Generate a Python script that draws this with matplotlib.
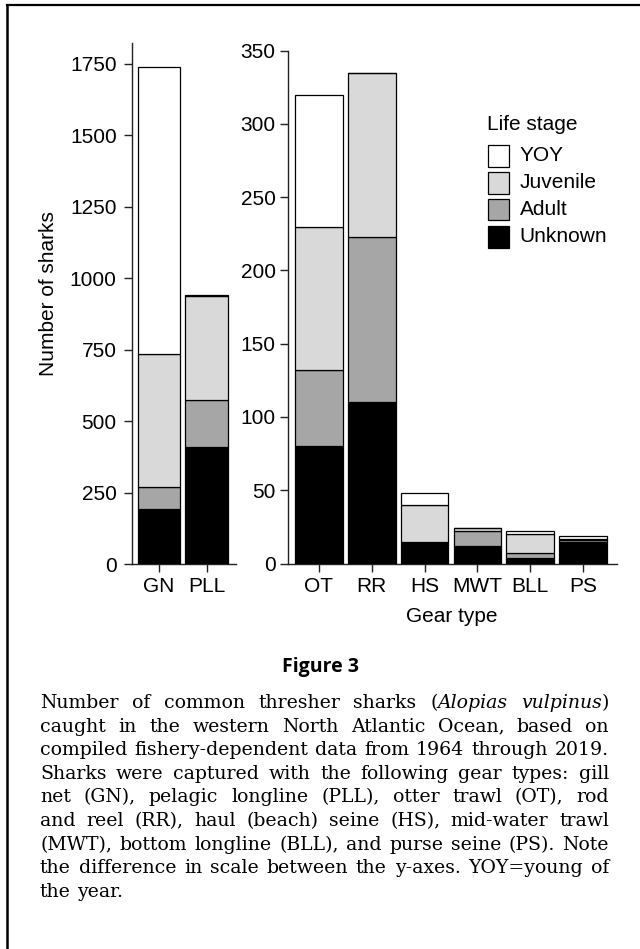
import matplotlib
matplotlib.use("Agg")
import matplotlib.pyplot as plt
from matplotlib.patches import Rectangle
from matplotlib.lines import Line2D
import numpy as np

# ---------------- data ----------------
stages = ["YOY", "Juvenile", "Adult", "Unknown"]
stage_colors = {"YOY": "#ffffff", "Juvenile": "#d9d9d9", "Adult": "#a6a6a6", "Unknown": "#000000"}

gear_left = ["GN", "PLL"]
left_unknown = [192, 410]
left_adult = [76, 164]
left_juvenile = [466, 362]
left_yoy = [1006, 5]

gear_right = ["OT", "RR", "HS", "MWT", "BLL", "PS"]
right_unknown = [80, 110, 15, 12, 4, 15]
right_adult = [52, 113, 0, 10, 3, 1]
right_juvenile = [98, 112, 25, 2, 13, 1]
right_yoy = [90, 0, 8, 0, 2, 2]

left_yticks = [0, 250, 500, 750, 1000, 1250, 1500, 1750]
right_yticks = [0, 50, 100, 150, 200, 250, 300, 350]

caption_lines = [
    [[("Number", "n")], [("of", "n")], [("common", "n")], [("thresher", "n")], [("sharks", "n")],
     [("(", "n"), ("Alopias", "i")], [("vulpinus", "i"), (")", "n")]],
    "caught in the western North Atlantic Ocean, based on",
    "compiled fishery-dependent data from 1964 through 2019.",
    "Sharks were captured with the following gear types: gill",
    "net (GN), pelagic longline (PLL), otter trawl (OT), rod",
    "and reel (RR), haul (beach) seine (HS), mid-water trawl",
    "(MWT), bottom longline (BLL), and purse seine (PS). Note",
    "the difference in scale between the y-axes. YOY=young of",
    "the year.",
]

# ---------------- figure ----------------
W, H = 640, 949
fig = plt.figure(figsize=(W / 100, H / 100), dpi=100)
sans = ["Liberation Sans", "DejaVu Sans"]
plt.rcParams["font.family"] = sans
FS = 15


def px_axes(x0, x1, ytop, ybot):
    return [x0 / W, 1 - ybot / H, (x1 - x0) / W, (ybot - ytop) / H]


def stacked(ax, cats, unk, adu, juv, yoy, width):
    x = np.arange(len(cats))
    bottom = np.zeros(len(cats))
    for name, vals in [("Unknown", unk), ("Adult", adu), ("Juvenile", juv), ("YOY", yoy)]:
        vals = np.array(vals, dtype=float)
        ax.bar(x, vals, width, bottom=bottom, color=stage_colors[name],
               edgecolor="black", linewidth=0.9, label=name, zorder=3)
        bottom += vals
    ax.set_xticks(x)
    ax.set_xticklabels(cats)


def style(ax, ypad):
    for s in ["top", "right"]:
        ax.spines[s].set_visible(False)
    for s in ["left", "bottom"]:
        ax.spines[s].set_linewidth(1.0)
        ax.spines[s].set_color("#222222")
    ax.tick_params(axis="both", direction="out", length=6, width=1.0,
                   labelsize=FS, colors="#222222", labelcolor="black")
    ax.tick_params(axis="y", pad=ypad)
    ax.tick_params(axis="x", pad=3.5)


# left axes
axL = fig.add_axes(px_axes(132, 236, 43, 564))
stacked(axL, gear_left, left_unknown, left_adult, left_juvenile, left_yoy, 0.885)
axL.set_xlim(-0.568, 1.62)
axL.set_ylim(0, 1823)
axL.set_yticks(left_yticks)
style(axL, 5)
fig.text(49 / W, 1 - 294 / H, "Number of sharks", rotation=90, ha="center", va="center",
         fontsize=FS)

# right axes
axR = fig.add_axes(px_axes(288, 617, 50.7, 563.5))
stacked(axR, gear_right, right_unknown, right_adult, right_juvenile, right_yoy, 0.9)
axR.set_xlim(-0.587, 5.644)
axR.set_ylim(0, 350)
axR.set_yticks(right_yticks)
style(axR, 3)
fig.text(452 / W, 1 - 616 / H, "Gear type", ha="center", va="center", fontsize=FS)

# legend (drawn manually to match the reference geometry)
fig.text(487 / W, 1 - 125 / H, "Life stage", ha="left", va="center", fontsize=FS)
box_tops = [145, 172.5, 199, 226]
for s, top in zip(stages, box_tops):
    fig.add_artist(Rectangle((487.5 / W, 1 - (top + 21.5) / H), 21.5 / W, 21.5 / H,
                             transform=fig.transFigure, facecolor=stage_colors[s],
                             edgecolor="black", linewidth=0.9))
    fig.text(519.5 / W, 1 - (top + 10.5) / H, s, ha="left", va="center", fontsize=FS)

# figure title
fig.text(320 / W, 1 - 667 / H, "Figure 3", ha="center", va="center",
         fontsize=14, fontweight="bold", family=["Open Sans", "DejaVu Sans"])

# caption (justified)
renderer = fig.canvas.get_renderer()
cap_left, cap_right = 40, 609
line_y0, line_dy = 703, 23.6
cap_font = ["DejaVu Serif"]

probe = fig.text(0, 0, caption_lines[2], fontsize=10, family=cap_font)
w10 = probe.get_window_extent(renderer).width
probe.remove()
cap_size = 10 * (cap_right - cap_left) / w10 * 0.995


def make_words(line):
    if isinstance(line, str):
        return [[(w, "n")] for w in line.split(" ")]
    return line


def text_w(s, size):
    t = fig.text(0, 0, s, fontsize=size, family=cap_font)
    w = t.get_window_extent(renderer).width
    t.remove()
    return w


space = text_w("a a", cap_size) - 2 * text_w("a", cap_size)

for i, line in enumerate(caption_lines):
    words = make_words(line)
    y = 1 - (line_y0 + i * line_dy) / H
    items = []
    widths = []
    for word in words:
        segs = []
        wsum = 0
        for txt, st in word:
            t = fig.text(0, y, txt, fontsize=cap_size, family=cap_font,
                         style="italic" if st == "i" else "normal", va="center", ha="left")
            ww = t.get_window_extent(renderer).width
            segs.append((t, ww))
            wsum += ww
        items.append(segs)
        widths.append(wsum)
    last = i == len(caption_lines) - 1
    if last or len(words) == 1:
        gap = space
    else:
        gap = (cap_right - cap_left - sum(widths)) / (len(words) - 1)
    x = cap_left
    for segs, ww in zip(items, widths):
        xx = x
        for t, sw in segs:
            t.set_x(xx / W)
            xx += sw
        x += ww + gap

# frame lines (top and left)
fig.add_artist(Line2D([7 / W, 1], [1 - 5 / H, 1 - 5 / H], transform=fig.transFigure,
                      color="black", linewidth=1.6))
fig.add_artist(Line2D([7 / W, 7 / W], [0, 1 - 5 / H], transform=fig.transFigure,
                      color="black", linewidth=1.8))

fig.savefig("out.png", dpi=100, facecolor="white")
